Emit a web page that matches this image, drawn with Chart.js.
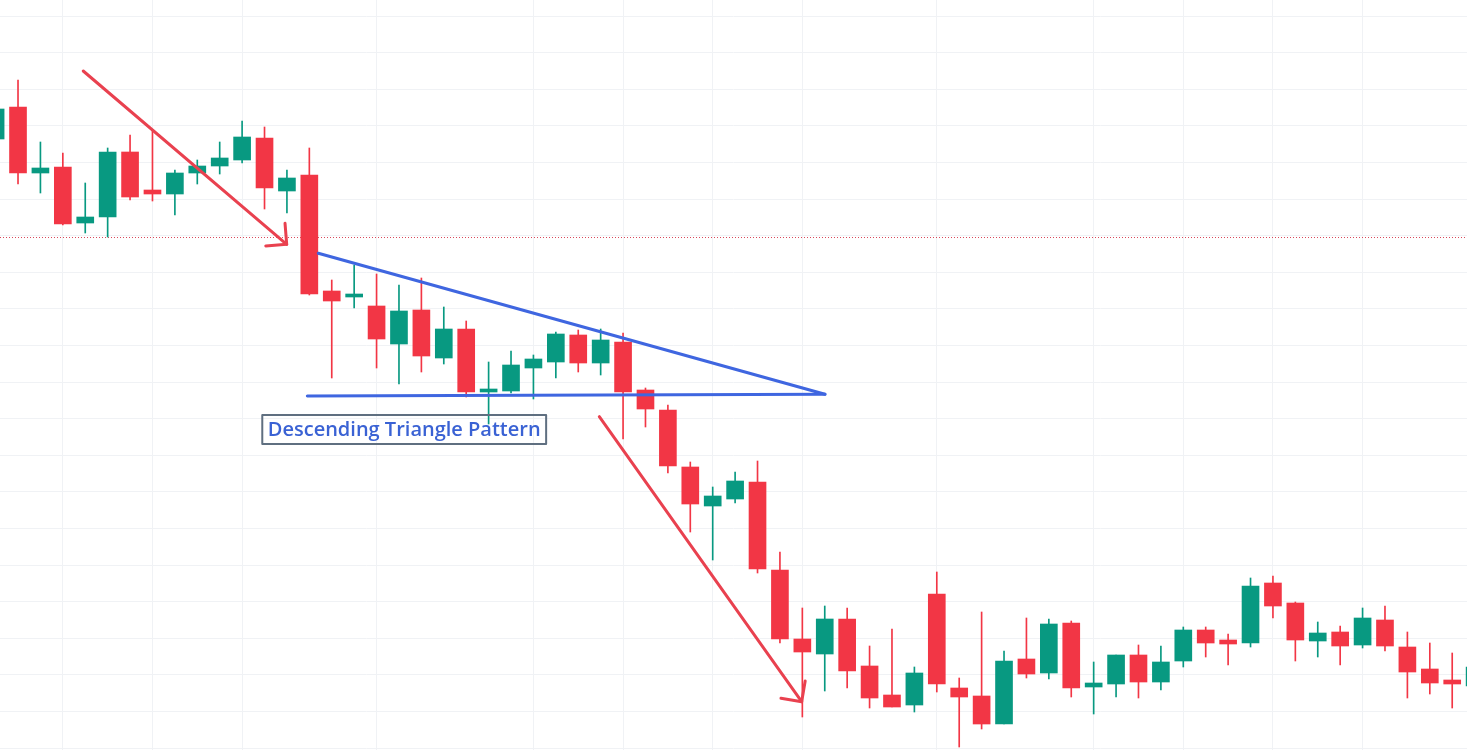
<!DOCTYPE html>
<html>
<head>
<meta charset="utf-8">
<script src="https://cdn.jsdelivr.net/npm/chart.js@4.4.1/dist/chart.umd.min.js"></script>
<style>
    html, body { margin: 0; padding: 0; background: #ffffff; }
    #wrap { width: 1467px; height: 750px; }
</style>
</head>
<body>
<div id="wrap"><canvas id="chart"></canvas></div>
<script>
// ローソク足データ（左から順に）
const opens  = [161.1, 164.3, 157.7, 158.3, 152.7, 153.3, 159.8, 156.0, 155.6, 157.7,
                158.4, 159.0, 161.2, 155.9, 157.5, 145.9, 145.3, 144.4, 140.6, 144.0,
                139.2, 142.1, 135.8, 135.9, 138.2, 138.8, 141.5, 138.7, 140.8, 136.0,
                134.0, 128.3, 124.4, 125.1, 126.8, 118.0, 111.1, 109.6, 113.1, 108.4,
                105.5, 104.5, 115.6, 106.2, 105.4, 102.6, 109.1, 107.7, 112.7, 106.3,
                106.6, 109.5, 106.8, 108.9, 112.0, 111.0, 110.7, 116.7, 114.7, 110.9,
                111.8, 110.5, 113.0, 110.3, 108.1, 107.0, 106.4];
const highs  = [164.6, 167.0, 160.8, 159.7, 156.7, 160.2, 161.5, 162.0, 158.0, 159.0,
                160.8, 162.9, 162.3, 158.0, 160.2, 147.0, 148.5, 147.6, 146.5, 147.2,
                144.3, 142.9, 138.8, 139.9, 139.5, 141.8, 142.0, 142.1, 141.7, 136.2,
                134.5, 128.8, 126.3, 127.8, 128.9, 119.8, 114.2, 114.4, 114.2, 110.4,
                112.1, 108.3, 117.8, 107.2, 113.8, 109.9, 113.2, 113.1, 112.9, 108.8,
                109.5, 110.5, 110.4, 112.3, 112.3, 111.6, 117.2, 117.4, 114.8, 112.8,
                112.4, 114.2, 114.4, 111.8, 110.7, 109.7, 109.0];
const lows   = [160.7, 156.6, 155.7, 152.5, 151.7, 151.3, 155.0, 154.9, 153.5, 156.6,
                157.6, 158.7, 154.1, 153.7, 145.5, 137.2, 144.2, 138.2, 136.6, 137.8,
                138.6, 135.3, 132.6, 135.7, 135.1, 137.2, 137.8, 137.5, 131.1, 132.3,
                127.7, 121.8, 119.0, 124.7, 117.7, 110.7, 103.3, 105.9, 106.2, 104.2,
                104.3, 103.8, 105.8, 100.3, 102.1, 102.6, 107.2, 107.1, 105.3, 103.6,
                105.3, 105.2, 106.0, 108.3, 109.3, 108.5, 110.3, 113.2, 108.9, 109.3,
                108.5, 110.2, 109.9, 105.2, 105.6, 104.2, 106.0];
const closes = [164.1, 157.7, 158.2, 152.6, 153.3, 159.8, 155.3, 155.6, 157.7, 158.4,
                159.2, 161.3, 156.2, 157.2, 145.6, 144.9, 145.6, 141.1, 143.9, 139.4,
                142.1, 135.8, 136.1, 138.5, 139.1, 141.6, 138.7, 141.0, 135.8, 134.1,
                128.4, 124.6, 125.4, 126.9, 118.1, 111.1, 109.8, 113.1, 107.9, 105.2,
                104.3, 107.7, 106.6, 105.3, 102.6, 108.9, 107.6, 112.6, 106.2, 106.7,
                109.5, 106.8, 108.8, 112.0, 110.7, 110.6, 116.4, 114.4, 111.0, 111.7,
                110.4, 113.2, 110.4, 107.8, 106.7, 106.6, 108.3];

// グリッド線の位置（足のインデックス）
const timeGridTicks = [3, 7, 11, 17, 24, 28, 32, 36, 42, 49, 53, 57, 61];
const priceGridStart = 100.2;
const priceGridStep = 3.66;

// 描画オブジェクト（[足インデックス, 価格]）
const dottedLevel = 151.3;
const triangleTop = [[14.40, 149.67], [37.01, 135.57]];
const triangleBase = [[13.91, 135.40], [37.01, 135.57]];
const arrowDown1 = [[3.91, 167.9], [12.99, 150.57]];
const arrowDown2 = [[26.94, 133.33], [35.97, 104.83]];
const labelText = 'Descending Triangle Pattern';
const labelAnchor = [11.90, 133.5];

const UP = '#089981';
const DOWN = '#F23645';

const candleColors = opens.map((o, i) => closes[i] >= o ? UP : DOWN);
const bodyData = opens.map((o, i) => ({ x: i, y: [o, closes[i]] }));
const wickData = lows.map((l, i) => ({ x: i, y: [l, highs[i]] }));

// トレンドライン・矢印・ラベルを描くプラグイン
const overlayPlugin = {
    id: 'overlay',
    beforeDatasetsDraw(chart) {
        const { ctx, chartArea, scales: { y } } = chart;
        const py = Math.round(y.getPixelForValue(dottedLevel)) + 0.5;
        ctx.save();
        ctx.strokeStyle = '#d9485a';
        ctx.lineWidth = 1;
        ctx.setLineDash([1, 2]);
        ctx.beginPath();
        ctx.moveTo(chartArea.left, py);
        ctx.lineTo(chartArea.right, py);
        ctx.stroke();
        ctx.restore();
    },
    afterDatasetsDraw(chart) {
        const { ctx, scales: { x, y } } = chart;
        const pt = (p) => [x.getPixelForValue(p[0]), y.getPixelForValue(p[1])];

        const line = (pts, color, width) => {
            const a = pt(pts[0]);
            const b = pt(pts[1]);
            ctx.strokeStyle = color;
            ctx.lineWidth = width;
            ctx.beginPath();
            ctx.moveTo(a[0], a[1]);
            ctx.lineTo(b[0], b[1]);
            ctx.stroke();
            return [a, b];
        };

        const arrow = (pts, color) => {
            const [a, b] = line(pts, color, 3);
            const back = Math.atan2(a[1] - b[1], a[0] - b[0]);
            const len = 21;
            ctx.beginPath();
            ctx.moveTo(b[0] + Math.cos(back - Math.PI / 4) * len, b[1] + Math.sin(back - Math.PI / 4) * len);
            ctx.lineTo(b[0], b[1]);
            ctx.lineTo(b[0] + Math.cos(back + Math.PI / 4) * len, b[1] + Math.sin(back + Math.PI / 4) * len);
            ctx.stroke();
        };

        ctx.save();
        ctx.lineCap = 'round';
        ctx.lineJoin = 'round';

        line(triangleTop, '#3f66e0', 3);
        line(triangleBase, '#3f66e0', 3);

        arrow(arrowDown1, '#e9414f');
        arrow(arrowDown2, '#e9414f');

        // ラベル
        const [lx, ly] = pt(labelAnchor);
        ctx.font = '600 20px "Open Sans"';
        const w = ctx.measureText(labelText).width;
        ctx.strokeStyle = '#5f6f80';
        ctx.lineWidth = 2;
        ctx.strokeRect(lx, ly, w + 11, 29);
        ctx.fillStyle = '#3a62d4';
        ctx.textBaseline = 'middle';
        ctx.fillText(labelText, lx + 5.5, ly + 15);
        ctx.restore();
    }
};

document.addEventListener('DOMContentLoaded', () => {
    const ctx = document.getElementById('chart').getContext('2d');
    new Chart(ctx, {
        type: 'bar',
        data: {
            datasets: [
                {
                    label: 'body',
                    data: bodyData,
                    backgroundColor: candleColors,
                    borderWidth: 0,
                    barThickness: 17,
                    grouped: false,
                    borderSkipped: false
                },
                {
                    label: 'wick',
                    data: wickData,
                    backgroundColor: candleColors,
                    borderWidth: 0,
                    barThickness: 1,
                    grouped: false,
                    borderSkipped: false
                }
            ]
        },
        options: {
            responsive: true,
            maintainAspectRatio: false,
            animation: false,
            layout: { padding: 0 },
            plugins: {
                legend: { display: false },
                tooltip: { enabled: false }
            },
            scales: {
                x: {
                    type: 'linear',
                    min: 0.196,
                    max: 65.66,
                    offset: false,
                    afterBuildTicks: (axis) => {
                        axis.ticks = timeGridTicks.map(v => ({ value: v }));
                    },
                    ticks: { display: false },
                    border: { display: false },
                    grid: { color: '#f0f2f5', lineWidth: 1, drawTicks: false, offset: false }
                },
                y: {
                    min: 100,
                    max: 175,
                    afterBuildTicks: (axis) => {
                        const ticks = [];
                        for (let v = priceGridStart; v < 175; v += priceGridStep) {
                            ticks.push({ value: v });
                        }
                        axis.ticks = ticks;
                    },
                    ticks: { display: false },
                    border: { display: false },
                    grid: { color: '#f0f2f5', lineWidth: 1, drawTicks: false }
                }
            }
        },
        plugins: [overlayPlugin]
    });
});
</script>
</body>
</html>
